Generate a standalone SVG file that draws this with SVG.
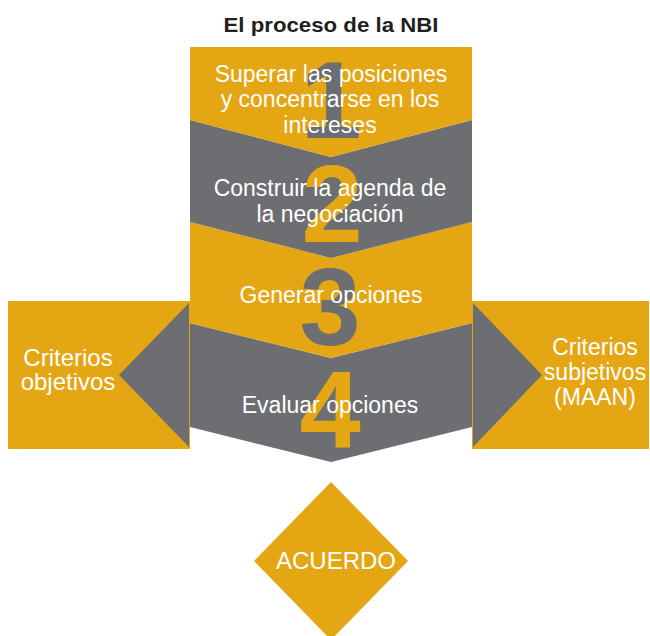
<svg xmlns="http://www.w3.org/2000/svg" width="650" height="636" viewBox="0 0 650 636">
<style>
.or{fill:#E5A614}
.gr{fill:#6D6E71}
.t{font-family:"Liberation Sans",Arial,sans-serif;fill:#FFFFFF;font-size:23px;text-anchor:middle}
.s{font-size:24px}
.num{font-family:"Liberation Sans",Arial,sans-serif;font-weight:bold;font-size:110px;text-anchor:middle}
.title{font-family:"Liberation Sans",Arial,sans-serif;font-weight:bold;font-size:21px;fill:#231F20;text-anchor:middle}
</style>
<rect width="650" height="636" fill="#FFFFFF"/>
<g id="title"><text class="title" x="331" y="32" textLength="215" lengthAdjust="spacingAndGlyphs">El proceso de la NBI</text></g>

<g id="criterios-objetivos">
<rect class="or" x="8" y="301" width="182" height="148"/>
<text class="t s" x="68" y="366">Criterios</text>
<text class="t s" x="68" y="390">objetivos</text>
</g>
<g id="criterios-subjetivos">
<rect class="or" x="472" y="301" width="177" height="148"/>
<text class="t" x="595" y="355">Criterios</text>
<text class="t" x="595" y="380">subjetivos</text>
<text class="t" x="595" y="405">(MAAN)</text>
</g>
<g id="connectors">
<polygon class="gr" points="189,303 119,375 189,447"/>
<polygon class="gr" points="473,303 542,375 473,447"/>
</g>

<g id="step4">
<polygon class="gr" points="190,323 331,358 472,323 472,427 331,462 190,427"/>
</g>
<g id="step3">
<polygon class="or" points="190,222 331,258 472,222 472,323 331,358 190,323"/>
</g>
<g id="step2">
<polygon class="gr" points="190,120 331,157 472,120 472,222 331,258 190,222"/>
</g>
<g id="step1">
<polygon class="or" points="190,47 472,47 472,120 331,157 190,120"/>
</g>

<g id="numbers">
<text class="num gr" x="331" y="138">1</text>
<text class="num or" x="332" y="242">2</text>
<text class="num gr" x="330" y="345">3</text>
<text class="num or" x="330" y="447">4</text>
</g>

<g id="step-labels">
<text class="t" x="331" y="82">Superar las posiciones</text>
<text class="t" x="330" y="107">y concentrarse en los</text>
<text class="t" x="330" y="133">intereses</text>
<text class="t" x="330" y="196">Construir la agenda de</text>
<text class="t" x="330" y="222">la negociación</text>
<text class="t" x="331" y="303">Generar opciones</text>
<text class="t" x="330" y="413">Evaluar opciones</text>
</g>

<g id="acuerdo">
<polygon class="or" points="331,482 408,561 331,640 254,561"/>
<text class="t s" x="336" y="569">ACUERDO</text>
</g>
</svg>
